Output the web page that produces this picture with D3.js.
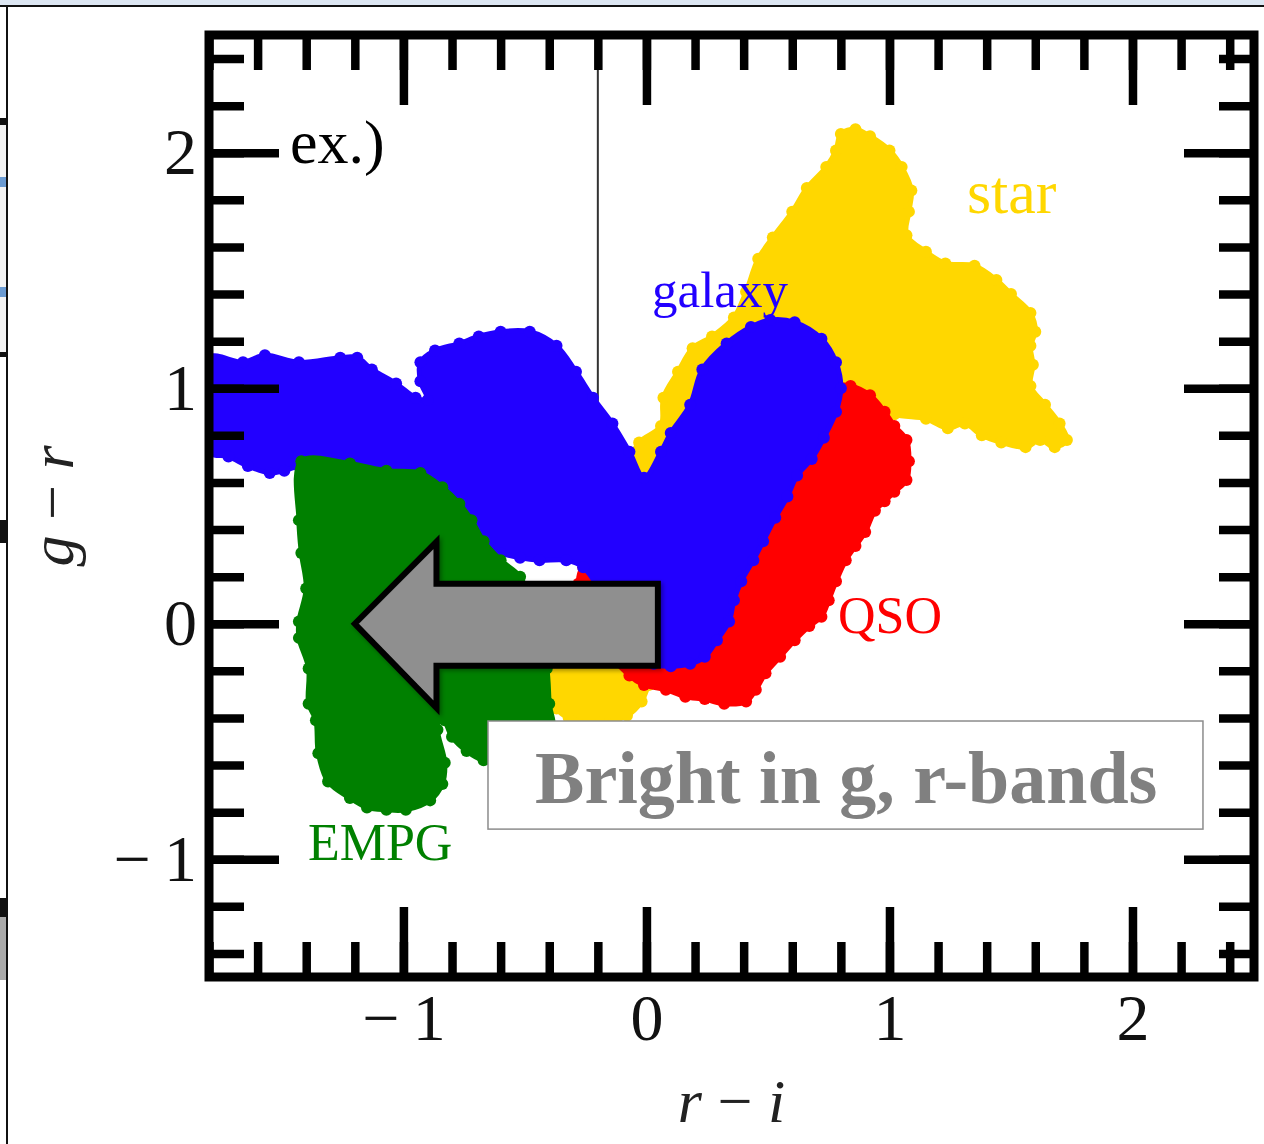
<!DOCTYPE html>
<html lang="en">
<head>
<meta charset="UTF-8">
<title>g-r vs r-i colour diagram</title>
<script src="https://d3js.org/d3.v7.min.js"></script>
<style>
  body { margin: 0; background: #fff; }
  svg { display: block; }
  text { font-family: "Liberation Serif", "Times New Roman", serif; }
</style>
</head>
<body>
<div id="chart"></div>
<script>
// outlines of each population in the (r-i, g-r) plane
const galaxy = [
  [-1.80, 1.13], [-1.66, 1.11], [-1.57, 1.14], [-1.43, 1.11], [-1.26, 1.13], [-1.19, 1.13],
  [-1.13, 1.08], [-1.03, 1.02], [-0.95, 0.96], [-0.90, 0.95], [-0.93, 1.03], [-0.93, 1.11],
  [-0.87, 1.16], [-0.77, 1.19], [-0.69, 1.22], [-0.60, 1.24], [-0.48, 1.24], [-0.37, 1.18],
  [-0.29, 1.07], [-0.22, 0.96], [-0.14, 0.85], [-0.07, 0.73], [-0.01, 0.62], [0.06, 0.73],
  [0.10, 0.81], [0.18, 0.93], [0.23, 1.08], [0.33, 1.19], [0.43, 1.26], [0.51, 1.29],
  [0.61, 1.28], [0.72, 1.21], [0.78, 1.11], [0.80, 1.00], [0.78, 0.90], [0.73, 0.79],
  [0.68, 0.70], [0.62, 0.63], [0.58, 0.54], [0.53, 0.45], [0.48, 0.35], [0.44, 0.27],
  [0.39, 0.18], [0.36, 0.10], [0.34, 0.01], [0.29, -0.07], [0.24, -0.14], [0.18, -0.17],
  [0.10, -0.18], [0.03, -0.17], [-0.11, -0.03], [-0.19, 0.14], [-0.26, 0.24], [-0.33, 0.27],
  [-0.44, 0.27], [-0.52, 0.28], [-0.60, 0.30], [-0.65, 0.32], [-0.70, 0.38], [-0.74, 0.45],
  [-0.80, 0.52], [-0.88, 0.58], [-0.96, 0.64], [-1.10, 0.64], [-1.26, 0.68], [-1.43, 0.67],
  [-1.49, 0.65], [-1.55, 0.64], [-1.64, 0.67], [-1.72, 0.71], [-1.80, 0.73]
];

const star = [
  [-0.03, 0.58], [-0.07, 0.67], [-0.03, 0.77], [0.06, 0.84], [0.07, 0.96], [0.13, 1.07],
  [0.19, 1.17], [0.27, 1.22], [0.36, 1.30], [0.41, 1.41], [0.46, 1.55], [0.52, 1.64],
  [0.60, 1.75], [0.66, 1.85], [0.74, 1.94], [0.78, 2.01], [0.80, 2.08], [0.86, 2.10],
  [0.92, 2.07], [1.00, 2.01], [1.05, 1.94], [1.09, 1.84], [1.08, 1.75], [1.07, 1.65],
  [1.15, 1.58], [1.23, 1.53], [1.35, 1.52], [1.44, 1.46], [1.50, 1.40], [1.58, 1.32],
  [1.60, 1.24], [1.58, 1.18], [1.59, 1.10], [1.58, 1.01], [1.64, 0.93], [1.70, 0.85],
  [1.73, 0.78], [1.68, 0.75], [1.62, 0.78], [1.56, 0.75], [1.46, 0.77], [1.38, 0.80],
  [1.31, 0.85], [1.24, 0.83], [1.15, 0.87], [1.02, 0.89], [0.92, 0.95], [0.80, 0.97],
  [0.63, 0.86], [0.43, 0.61], [0.22, 0.27], [0.18, -0.07], [0.06, -0.19], [0.01, -0.26],
  [-0.02, -0.33], [-0.08, -0.39], [-0.19, -0.42], [-0.32, -0.40], [-0.37, -0.36], [-0.41, -0.28],
  [-0.42, -0.19], [-0.36, -0.07], [-0.19, 0.10], [-0.03, 0.44]
];

const qso = [
  [0.79, 1.01], [0.84, 1.01], [0.92, 0.97], [0.98, 0.90], [1.02, 0.84], [1.07, 0.78],
  [1.08, 0.69], [1.07, 0.61], [1.02, 0.56], [0.98, 0.52], [0.94, 0.48], [0.90, 0.39],
  [0.86, 0.33], [0.82, 0.27], [0.78, 0.18], [0.75, 0.10], [0.72, 0.03], [0.67, -0.01],
  [0.61, -0.07], [0.55, -0.14], [0.49, -0.21], [0.45, -0.28], [0.41, -0.33], [0.32, -0.34],
  [0.24, -0.32], [0.16, -0.31], [0.08, -0.28], [-0.01, -0.26], [-0.07, -0.22], [-0.19, -0.07],
  [-0.28, 0.17], [-0.26, 0.24], [-0.22, 0.24], [0.01, 0.27], [0.47, 0.73], [0.76, 0.99]
];

const empg = [
  [-1.42, 0.69], [-1.22, 0.68], [-1.07, 0.65], [-0.93, 0.64], [-0.84, 0.58], [-0.77, 0.51],
  [-0.72, 0.44], [-0.67, 0.35], [-0.60, 0.27], [-0.52, 0.20], [-0.48, 0.10], [-0.44, -0.07],
  [-0.41, -0.19], [-0.40, -0.34], [-0.39, -0.45], [-0.62, -0.58], [-0.67, -0.58], [-0.74, -0.54],
  [-0.80, -0.48], [-0.83, -0.41], [-0.85, -0.38], [-0.86, -0.45], [-0.83, -0.59], [-0.84, -0.68],
  [-0.89, -0.75], [-0.99, -0.79], [-1.07, -0.79], [-1.15, -0.78], [-1.22, -0.74], [-1.31, -0.67],
  [-1.35, -0.55], [-1.36, -0.41], [-1.39, -0.34], [-1.39, -0.19], [-1.43, -0.06], [-1.43, 0.01],
  [-1.40, 0.15], [-1.42, 0.30], [-1.43, 0.44]
];

const majorTicks = [-1, 0, 1, 2];
const xDomain = [-1.8, 2.5];
const yDomain = [-1.5, 2.5];

// the big grey arrow (r-i, g-r of its corners)
const arrowShape = [
  [-1.20, 0.00], [-0.864, 0.348], [-0.864, 0.170], [0.047, 0.170],
  [0.047, -0.178], [-0.864, -0.178], [-0.864, -0.357]
];

const width = 1264;
const height = 1144;

const svg = d3.select("#chart").append("svg")
  .attr("width", width)
  .attr("height", height);

// bits of the slide window behind the figure
svg.append("rect").attr("x", 0).attr("y", 0).attr("width", width).attr("height", 5).attr("fill", "#dce6f2");
svg.append("line").attr("x1", 0).attr("x2", width).attr("y1", 6).attr("y2", 6).attr("stroke", "#111").attr("stroke-width", 2);
svg.append("rect").attr("x", 0).attr("y", 120).attr("width", 6).attr("height", 236).attr("fill", "#f3f3f3");
[[118, 7, "#111"], [177, 10, "#6b9bd2"], [287, 10, "#6b9bd2"], [352, 5, "#111"],
 [520, 23, "#111"], [898, 19, "#111"], [917, 63, "#aaa"]].forEach(b => {
  svg.append("rect").attr("x", 0).attr("y", b[0]).attr("width", 6).attr("height", b[1]).attr("fill", b[2]);
});
svg.append("line").attr("x1", 7).attr("x2", 7).attr("y1", 6).attr("y2", height).attr("stroke", "#111").attr("stroke-width", 2);

const x = d3.scaleLinear().domain(xDomain).range([209, 1254]);
const y = d3.scaleLinear().domain(yDomain).range([977, 35]);

svg.append("clipPath").attr("id", "plotClip")
  .append("rect")
  .attr("x", x(xDomain[0])).attr("y", y(yDomain[1]))
  .attr("width", x(xDomain[1]) - x(xDomain[0]))
  .attr("height", y(yDomain[0]) - y(yDomain[1]));

const plot = svg.append("g").attr("clip-path", "url(#plotClip)");

// thin vertical line at r-i = -0.2
plot.append("line")
  .attr("x1", x(-0.2)).attr("x2", x(-0.2))
  .attr("y1", y(2.5)).attr("y2", y(0.4))
  .attr("stroke", "#333").attr("stroke-width", 2);

const smooth = d3.line()
  .x(d => x(d[0]))
  .y(d => y(d[1]))
  .curve(d3.curveCatmullRomClosed.alpha(0.5));

const straight = d3.line()
  .x(d => x(d[0]))
  .y(d => y(d[1]))
  .curve(d3.curveLinearClosed);

function drawCloud(points, color) {
  const g = plot.append("g");
  g.append("path")
    .datum(points)
    .attr("d", smooth)
    .attr("fill", color)
    .attr("stroke", color)
    .attr("stroke-width", 5)
    .attr("stroke-linejoin", "round");
  g.selectAll("circle")
    .data(points)
    .join("circle")
    .attr("cx", d => x(d[0]))
    .attr("cy", d => y(d[1]))
    .attr("r", 6)
    .attr("fill", color);
}

drawCloud(star, "#ffd700");
drawCloud(qso, "#ff0000");
drawCloud(galaxy, "#2200ff");
drawCloud(empg, "#008000");

// population labels
const labels = [
  { text: "galaxy", at: [0.023, 1.345], size: 51, color: "#2200ff" },
  { text: "star", at: [1.319, 1.743], size: 62, color: "#ffd700" },
  { text: "QSO", at: [0.788, -0.039], size: 52, color: "#ff0000" },
  { text: "EMPG", at: [-1.393, -1.004], size: 52, color: "#008000" },
  { text: "ex.)", at: [-1.467, 1.956], size: 62, color: "#000" }
];
svg.append("g").selectAll("text")
  .data(labels)
  .join("text")
  .attr("x", d => x(d.at[0]))
  .attr("y", d => y(d.at[1]))
  .attr("font-size", d => d.size)
  .attr("fill", d => d.color)
  .text(d => d.text);

// arrow
const defs = svg.append("defs");
const shadow = defs.append("filter").attr("id", "shadow").attr("x", "-10%").attr("y", "-10%").attr("width", "130%").attr("height", "130%");
shadow.append("feDropShadow").attr("dx", 2).attr("dy", 2).attr("stdDeviation", 2).attr("flood-opacity", 0.35);

svg.append("path")
  .datum(arrowShape)
  .attr("d", straight)
  .attr("fill", "#8f8f8f")
  .attr("stroke", "#000")
  .attr("stroke-width", 6)
  .attr("stroke-linejoin", "miter")
  .attr("filter", "url(#shadow)");

// text box
svg.append("rect")
  .attr("x", x(-0.652)).attr("y", y(-0.413))
  .attr("width", x(2.290) - x(-0.652))
  .attr("height", y(-0.872) - y(-0.413))
  .attr("fill", "#fff")
  .attr("stroke", "#8c8c8c")
  .attr("stroke-width", 1.5);
svg.append("text")
  .attr("x", x(0.822)).attr("y", y(-0.761))
  .attr("text-anchor", "middle")
  .attr("font-size", 74)
  .attr("font-weight", "bold")
  .attr("fill", "#808080")
  .text("Bright in g, r-bands");

// frame and ticks
const minorX = d3.range(-18, 26, 2).map(v => v / 10);
const minorY = d3.range(-14, 26, 2).map(v => v / 10);
const fmt = d => d < 0 ? "\u2212\u2009" + Math.abs(d) : String(d);

function styleTicks(g) {
  g.select(".domain").remove();
  g.selectAll(".tick line").attr("stroke", "#000").attr("stroke-width", 8.5);
}

const axes = svg.append("g");
axes.append("g").attr("transform", `translate(0,${y(yDomain[0])})`)
  .call(d3.axisBottom(x).tickValues(minorX).tickSize(-35).tickFormat("")).call(styleTicks);
axes.append("g").attr("transform", `translate(0,${y(yDomain[0])})`)
  .call(d3.axisBottom(x).tickValues(majorTicks).tickSize(-70).tickPadding(16).tickFormat(fmt)).call(styleTicks);
axes.append("g").attr("transform", `translate(0,${y(yDomain[1])})`)
  .call(d3.axisTop(x).tickValues(minorX).tickSize(-35).tickFormat("")).call(styleTicks);
axes.append("g").attr("transform", `translate(0,${y(yDomain[1])})`)
  .call(d3.axisTop(x).tickValues(majorTicks).tickSize(-70).tickFormat("")).call(styleTicks);
axes.append("g").attr("transform", `translate(${x(xDomain[0])},0)`)
  .call(d3.axisLeft(y).tickValues(minorY).tickSize(-35).tickFormat("")).call(styleTicks);
axes.append("g").attr("transform", `translate(${x(xDomain[0])},0)`)
  .call(d3.axisLeft(y).tickValues(majorTicks).tickSize(-70).tickPadding(12).tickFormat(fmt)).call(styleTicks);
axes.append("g").attr("transform", `translate(${x(xDomain[1])},0)`)
  .call(d3.axisRight(y).tickValues(minorY).tickSize(-35).tickFormat("")).call(styleTicks);
axes.append("g").attr("transform", `translate(${x(xDomain[1])},0)`)
  .call(d3.axisRight(y).tickValues(majorTicks).tickSize(-70).tickFormat("")).call(styleTicks);

axes.selectAll(".tick text")
  .attr("font-family", "'Liberation Serif', 'Times New Roman', serif")
  .attr("font-size", 66)
  .attr("fill", "#111");

svg.append("rect")
  .attr("x", x(xDomain[0])).attr("y", y(yDomain[1]))
  .attr("width", x(xDomain[1]) - x(xDomain[0]))
  .attr("height", y(yDomain[0]) - y(yDomain[1]))
  .attr("fill", "none")
  .attr("stroke", "#000")
  .attr("stroke-width", 9);

// axis titles
const xTitle = svg.append("text")
  .attr("x", (x(xDomain[0]) + x(xDomain[1])) / 2)
  .attr("y", 1122)
  .attr("text-anchor", "middle")
  .attr("font-size", 62)
  .attr("fill", "#222");
xTitle.append("tspan").attr("font-style", "italic").text("r");
xTitle.append("tspan").text(" \u2212 ");
xTitle.append("tspan").attr("font-style", "italic").text("i");

const yTitle = svg.append("text")
  .attr("transform", `translate(73,${(y(yDomain[0]) + y(yDomain[1])) / 2}) rotate(-90)`)
  .attr("text-anchor", "middle")
  .attr("font-size", 62)
  .attr("fill", "#222");
yTitle.append("tspan").attr("font-style", "italic").text("g");
yTitle.append("tspan").text(" \u2212 ");
yTitle.append("tspan").attr("font-style", "italic").text("r");
</script>
</body>
</html>
